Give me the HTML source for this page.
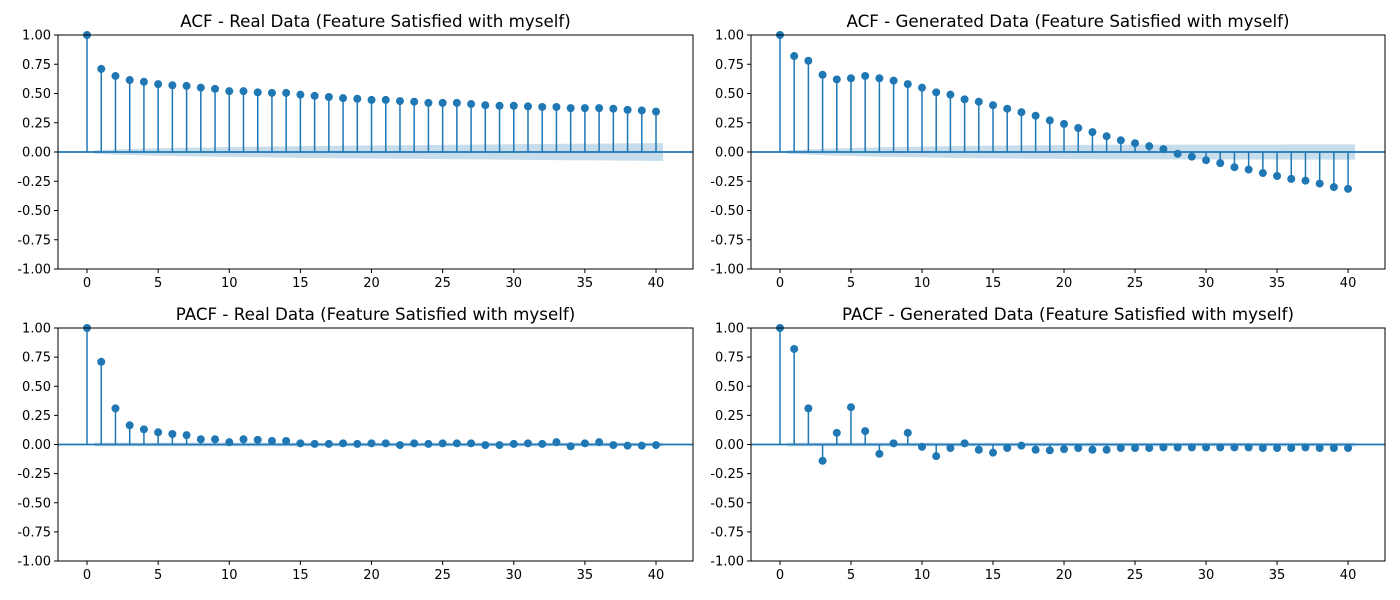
<!DOCTYPE html>
<html><head><meta charset="utf-8"><style>
body{margin:0;background:#fff;}
svg{display:block;font-family:"DejaVu Sans","Liberation Sans",sans-serif;}
</style></head><body>
<svg id="fig" width="1400" height="600" viewBox="0 0 1400 600"></svg>
<script>
const lags = Array.from({length:41},(_,i)=>i);
const acfReal = [1,0.71,0.65,0.615,0.60,0.58,0.57,0.565,0.55,0.54,0.52,0.52,0.51,0.505,0.505,0.49,0.48,0.47,0.46,0.455,0.445,0.445,0.435,0.43,0.42,0.42,0.42,0.41,0.40,0.395,0.395,0.39,0.385,0.385,0.375,0.375,0.375,0.37,0.36,0.355,0.345];
const acfGen = [1,0.82,0.78,0.66,0.62,0.63,0.65,0.63,0.61,0.58,0.55,0.51,0.49,0.45,0.43,0.40,0.37,0.34,0.31,0.27,0.24,0.205,0.17,0.135,0.10,0.075,0.05,0.025,-0.015,-0.04,-0.07,-0.095,-0.13,-0.15,-0.18,-0.205,-0.23,-0.245,-0.27,-0.30,-0.315];
const pacfReal = [1,0.71,0.31,0.165,0.13,0.105,0.09,0.08,0.045,0.045,0.02,0.045,0.04,0.03,0.03,0.01,0.005,0.005,0.01,0.005,0.01,0.01,-0.005,0.01,0.005,0.01,0.01,0.01,-0.005,-0.005,0.005,0.01,0.005,0.02,-0.015,0.01,0.02,-0.005,-0.01,-0.01,-0.005];
const pacfGen = [1,0.82,0.31,-0.14,0.10,0.32,0.115,-0.08,0.01,0.10,-0.02,-0.10,-0.03,0.01,-0.045,-0.07,-0.03,-0.01,-0.045,-0.05,-0.04,-0.03,-0.045,-0.045,-0.03,-0.03,-0.03,-0.025,-0.025,-0.025,-0.025,-0.025,-0.025,-0.025,-0.03,-0.03,-0.03,-0.025,-0.03,-0.03,-0.03];
const bandAcfReal = [0.016,0.022,0.026,0.029,0.032,0.034,0.036,0.038,0.040,0.042,0.044,0.045,0.047,0.048,0.050,0.051,0.052,0.054,0.055,0.056,0.057,0.058,0.059,0.060,0.061,0.062,0.063,0.064,0.065,0.066,0.067,0.068,0.069,0.070,0.071,0.072,0.073,0.074,0.075,0.076];
const bandAcfGen = [0.016,0.022,0.027,0.031,0.034,0.037,0.039,0.042,0.044,0.046,0.048,0.050,0.052,0.053,0.055,0.056,0.057,0.058,0.059,0.060,0.061,0.061,0.062,0.062,0.063,0.063,0.063,0.063,0.064,0.064,0.064,0.064,0.064,0.064,0.064,0.065,0.065,0.065,0.065,0.065];
const bandPacf = Array(40).fill(0.016);
const yTicks = [1.00,0.75,0.50,0.25,0.00,-0.25,-0.50,-0.75,-1.00];
const xTicks = [0,5,10,15,20,25,30,35,40];
const titles = ["ACF - Real Data (Feature Satisfied with myself)","ACF - Generated Data (Feature Satisfied with myself)","PACF - Real Data (Feature Satisfied with myself)","PACF - Generated Data (Feature Satisfied with myself)"];

const NS="http://www.w3.org/2000/svg";
const svg=document.getElementById('fig');
function mk(t,a,p){const e=document.createElementNS(NS,t);for(const k in a)e.setAttribute(k,a[k]);(p||svg).appendChild(e);return e;}
const C="#1f77b4";
function panel(x0,y0,x1,y1,vals,band,title,name){
  const g=mk('g',{});
  
  
  const xmin=-2.04,xmax=42.6;
  const X=v=>x0+(v-xmin)/(xmax-xmin)*(x1-x0);
  const Y=v=>y0+(1-v)/2*(y1-y0);
  let top=[],bot=[];
  top.push([X(0.5),Y(band[0])]);bot.push([X(0.5),Y(-band[0])]);
  band.forEach((b,i)=>{top.push([X(i+1),Y(b)]);bot.push([X(i+1),Y(-b)]);});
  top.push([X(40.5),Y(band[39])]);bot.push([X(40.5),Y(-band[39])]);
  const pts=top.concat(bot.reverse()).map(p=>p.join(',')).join(' ');
  const poly=mk('polygon',{points:pts,fill:C,'fill-opacity':0.25,stroke:'none'},g);
  
  
  mk('line',{x1:x0,x2:x1,y1:Y(0),y2:Y(0),stroke:C,'stroke-width':1.8},g);
  vals.forEach((v,i)=>{
    const l=mk('line',{x1:X(lags[i]),x2:X(lags[i]),y1:Y(0),y2:Y(v),stroke:C,'stroke-width':1.5},g);
    
    
    const c=mk('circle',{cx:X(lags[i]),cy:Y(v),r:4,fill:C},g);
    
    
  });
  mk('rect',{x:x0,y:y0,width:x1-x0,height:y1-y0,fill:'none',stroke:'#000','stroke-width':1},g);
  yTicks.forEach(t=>{
    mk('line',{x1:x0-4,x2:x0,y1:Y(t),y2:Y(t),stroke:'#000'},g);
    const tx=mk('text',{x:x0-7,y:Y(t)+4.5,'text-anchor':'end','font-size':13},g);tx.textContent=t.toFixed(2);
  });
  xTicks.forEach(t=>{
    mk('line',{x1:X(t),x2:X(t),y1:y1,y2:y1+4,stroke:'#000'},g);
    const tx=mk('text',{x:X(t),y:y1+18,'text-anchor':'middle','font-size':13},g);tx.textContent=t;
  });
  const tt=mk('text',{x:(x0+x1)/2,y:y0-8,'text-anchor':'middle','font-size':16.7},g);tt.textContent=title;
  
  
}
panel(58,35,693,269,acfReal,bandAcfReal,titles[0],'acf-real-panel');
panel(751,35,1385,269,acfGen,bandAcfGen,titles[1],'acf-generated-panel');
panel(58,328,693,561,pacfReal,bandPacf,titles[2],'pacf-real-panel');
panel(751,328,1385,561,pacfGen,bandPacf,titles[3],'pacf-generated-panel');
</script>
</body></html>
